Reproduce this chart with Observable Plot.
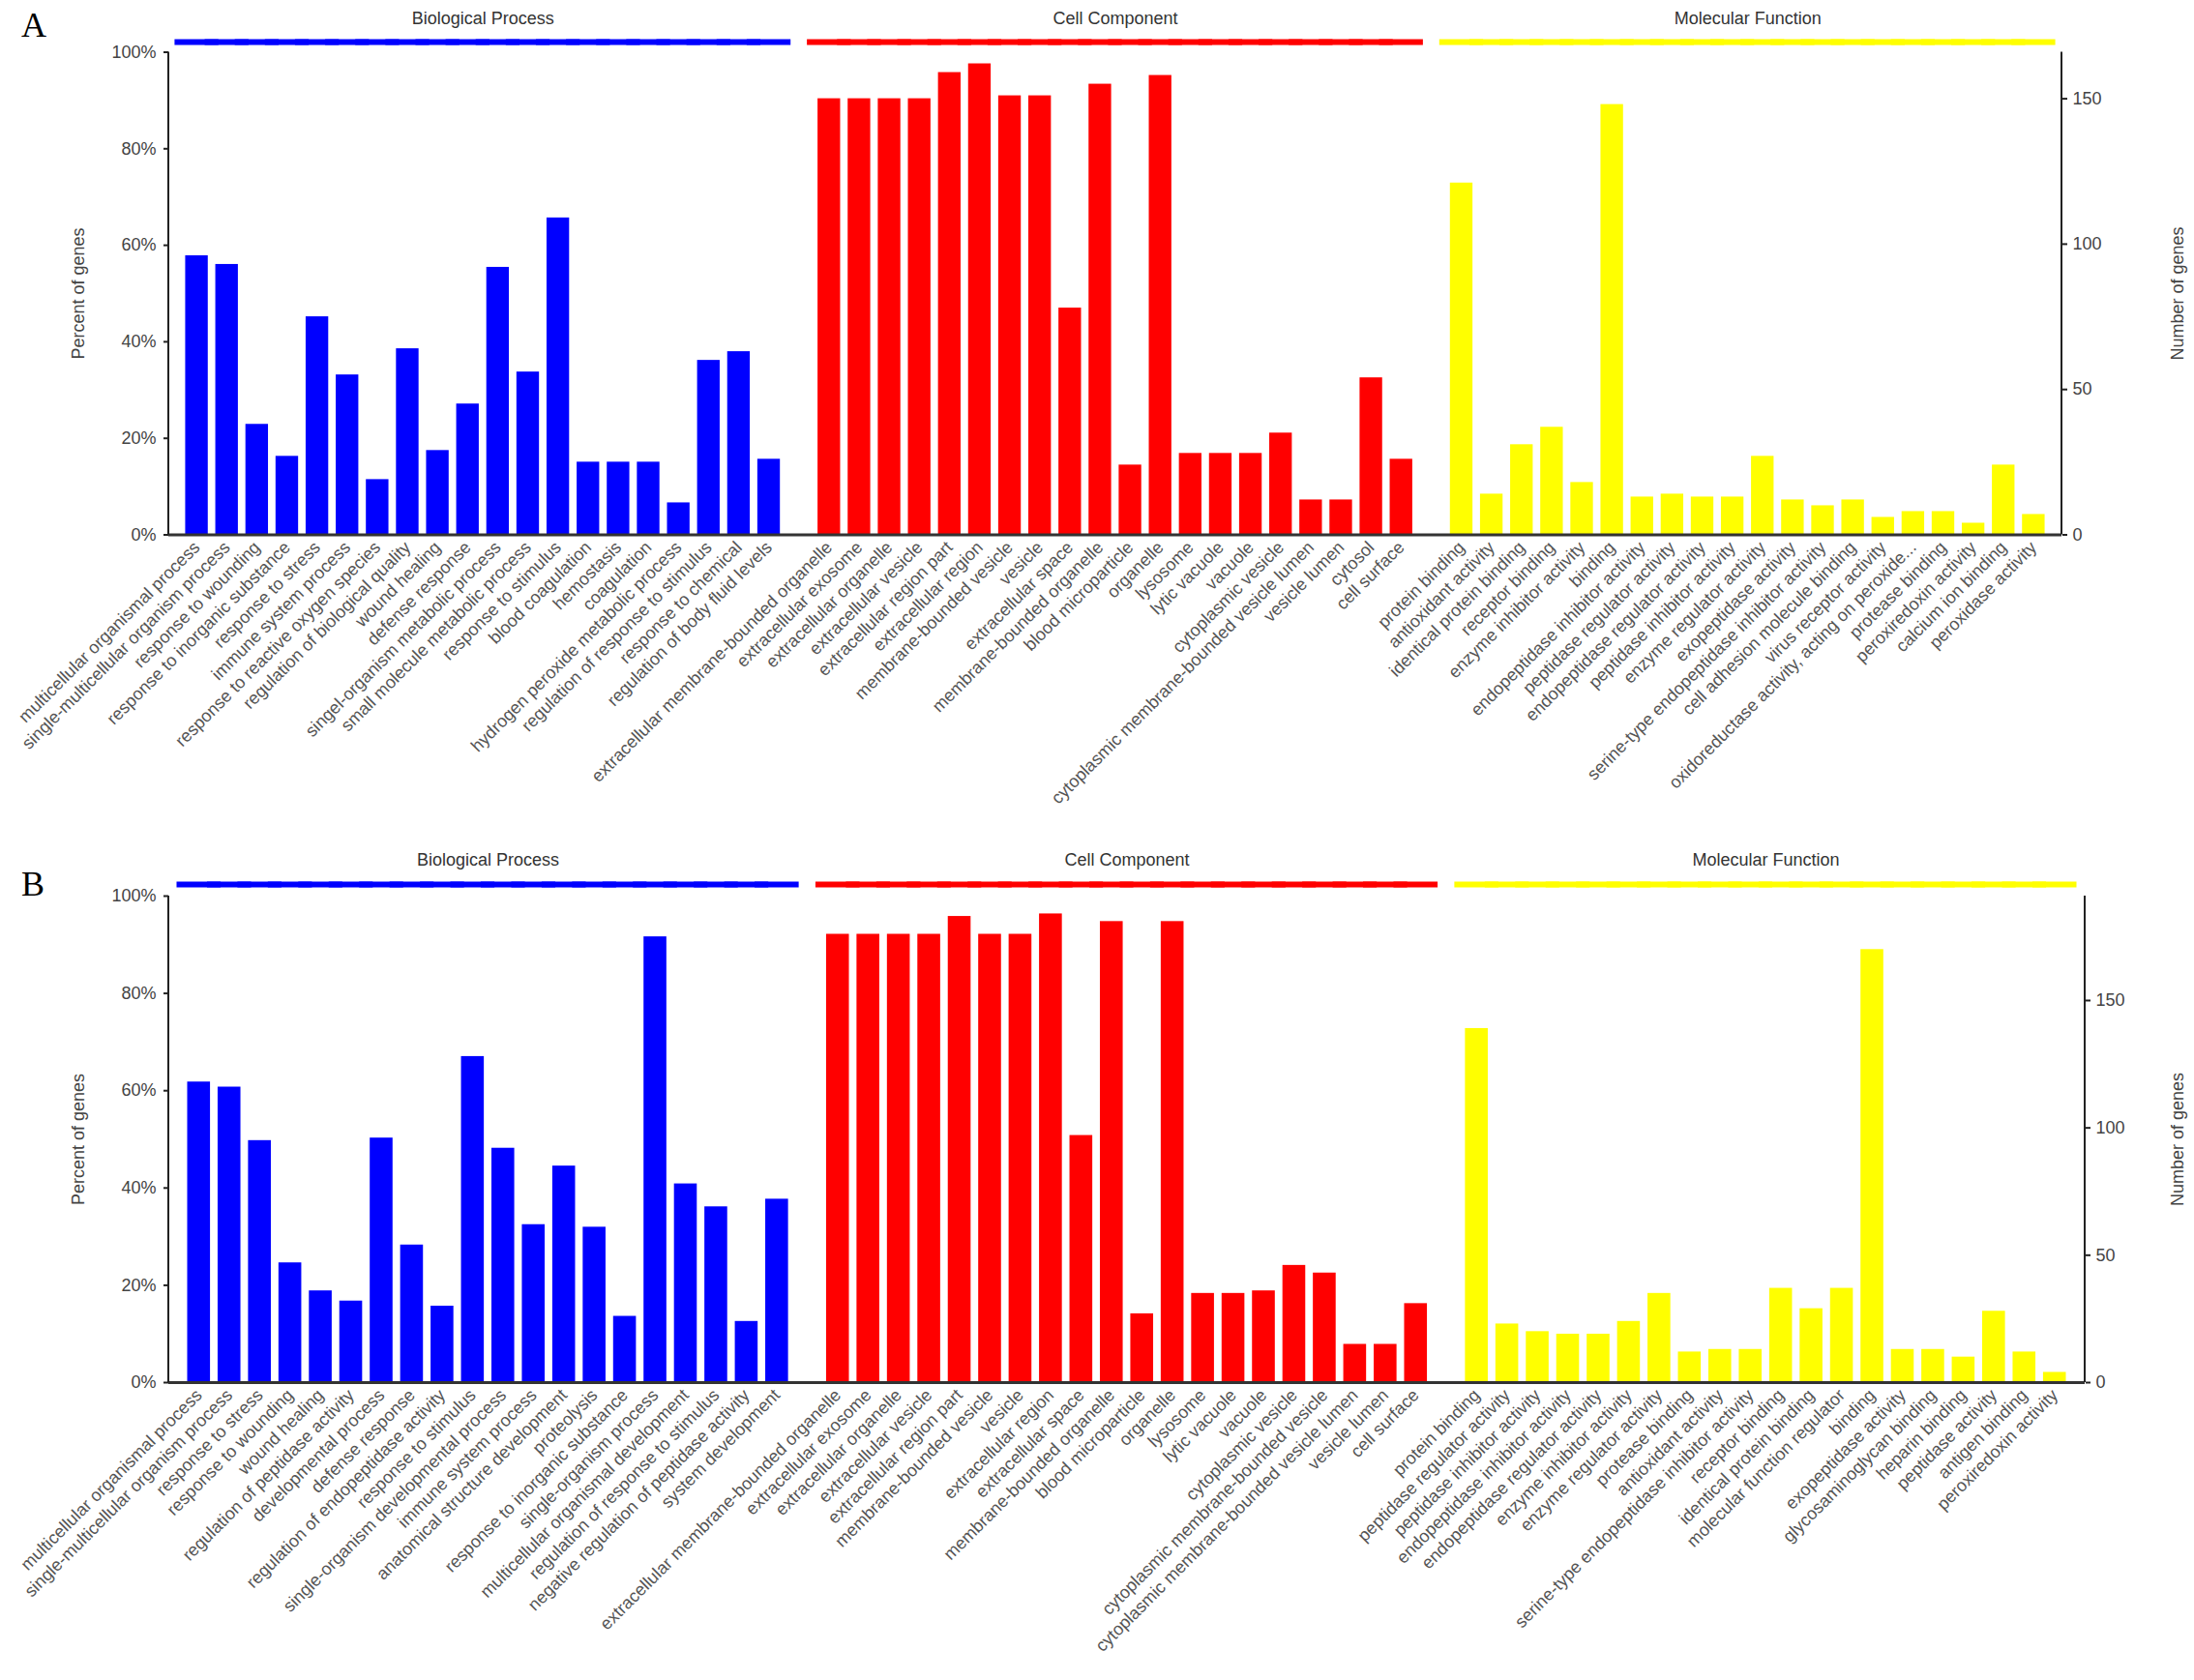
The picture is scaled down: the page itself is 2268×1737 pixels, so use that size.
<!DOCTYPE html>
<html>
<head>
<meta charset="utf-8">
<script src="https://cdn.jsdelivr.net/npm/d3@7"></script>
<script src="https://cdn.jsdelivr.net/npm/@observablehq/plot@0.6"></script>
<style>
  body { margin: 0; background: #fff; }
  #page { position: relative; width: 2268px; height: 1737px; overflow: hidden; }
  .panel { position: absolute; left: 0; }
  .tag { position: absolute; left: 22px; z-index: 2; line-height: 1;
         font-family: "Liberation Serif", "Times New Roman", serif; font-size: 36px; color: #000; }
</style>
</head>
<body>
<div id="page">
  <div class="panel" id="chartA" style="top:0px"></div>
  <div class="panel" id="chartB" style="top:870px"></div>
  <div class="tag" style="top:8px">A</div>
  <div class="tag" style="top:896px">B</div>
</div>
<script>
const groupNames = ["Biological Process", "Cell Component", "Molecular Function"];
const groupColors = ["#0000ff", "#ff0000", "#ffff00"];
const percentTicks = [0, 20, 40, 60, 80, 100];
const geneTicks = [0, 50, 100, 150];

// panel A (total genes ~166)
const totalA = 166;
const bpTermsA = ["multicellular organismal process", "single-multicellular organism process", "response to wounding",
  "response to inorganic substance", "response to stress", "immune system process", "response to reactive oxygen species",
  "regulation of biological quality", "wound healing", "defense response", "singel-organism metabolic process",
  "small molecule metabolic process", "response to stimulus", "blood coagulation", "hemostasis", "coagulation",
  "hydrogen peroxide metabolic process", "regulation of response to stimulus", "response to chemical",
  "regulation of body fluid levels"];
const bpCountsA = [96, 93, 38, 27, 75, 55, 19, 64, 29, 45, 92, 56, 109, 25, 25, 25, 11, 60, 63, 26];
const ccTermsA = ["extracellular membrane-bounded organelle", "extracellular exosome", "extracellular organelle",
  "extracellular vesicle", "extracellular region part", "extracellular region", "membrane-bounded vesicle", "vesicle",
  "extracellular space", "membrane-bounded organelle", "blood microparticle", "organelle", "lysosome", "lytic vacuole",
  "vacuole", "cytoplasmic vesicle", "cytoplasmic membrane-bounded vesicle lumen", "vesicle lumen", "cytosol", "cell surface"];
const ccCountsA = [150, 150, 150, 150, 159, 162, 151, 151, 78, 155, 24, 158, 28, 28, 28, 35, 12, 12, 54, 26];
const mfTermsA = ["protein binding", "antioxidant activity", "identical protein binding", "receptor binding",
  "enzyme inhibitor activity", "binding", "endopeptidase inhibitor activity", "peptidase regulator activity",
  "endopeptidase regulator activity", "peptidase inhibitor activity", "enzyme regulator activity", "exopeptidase activity",
  "serine-type endopeptidase inhibitor activity", "cell adhesion molecule binding", "virus receptor activity",
  "oxidoreductase activity, acting on peroxide...", "protease binding", "peroxiredoxin activity", "calcium ion binding",
  "peroxidase activity"];
const mfCountsA = [121, 14, 31, 37, 18, 148, 13, 14, 13, 13, 27, 12, 10, 12, 6, 8, 8, 4, 24, 7];

// panel B (total genes ~191)
const totalB = 191;
const bpTermsB = ["multicellular organismal process", "single-multicellular organism process", "response to stress",
  "response to wounding", "wound healing", "regulation of peptidase activity", "developmental process", "defense response",
  "regulation of endopeptidase activity", "response to stimulus", "single-organism developmental process",
  "immune system process", "anatomical structure development", "proteolysis", "response to inorganic substance",
  "single-organism process", "multicellular organismal development", "regulation of response to stimulus",
  "negative regulation of peptidase activity", "system development"];
const bpCountsB = [118, 116, 95, 47, 36, 32, 96, 54, 30, 128, 92, 62, 85, 61, 26, 175, 78, 69, 24, 72];
const ccTermsB = ["extracellular membrane-bounded organelle", "extracellular exosome", "extracellular organelle",
  "extracellular vesicle", "extracellular region part", "membrane-bounded vesicle", "vesicle", "extracellular region",
  "extracellular space", "membrane-bounded organelle", "blood microparticle", "organelle", "lysosome", "lytic vacuole",
  "vacuole", "cytoplasmic vesicle", "cytoplasmic membrane-bounded vesicle", "cytoplasmic membrane-bounded vesicle lumen",
  "vesicle lumen", "cell surface"];
const ccCountsB = [176, 176, 176, 176, 183, 176, 176, 184, 97, 181, 27, 181, 35, 35, 36, 46, 43, 15, 15, 31];
const mfTermsB = ["protein binding", "peptidase regulator activity", "peptidase inhibitor activity",
  "endopeptidase inhibitor activity", "endopeptidase regulator activity", "enzyme inhibitor activity",
  "enzyme regulator activity", "protease binding", "antioxidant activity", "serine-type endopeptidase inhibitor activity",
  "receptor binding", "identical protein binding", "molecular function regulator", "binding", "exopeptidase activity",
  "glycosaminoglycan binding", "heparin binding", "peptidase activity", "antigen binding", "peroxiredoxin activity"];
const mfCountsB = [139, 23, 20, 19, 19, 24, 35, 12, 13, 13, 37, 29, 37, 170, 13, 13, 10, 28, 12, 4];

// vertical axis lines at both edges of the frame
function sideLines(index, scales, values, dims) {
  const g = d3.create("svg:g").attr("stroke", "#222").attr("stroke-width", 2);
  [dims.marginLeft, dims.width - dims.marginRight].forEach(x => {
    g.append("line").attr("x1", x).attr("x2", x)
      .attr("y1", dims.marginTop).attr("y2", dims.height - dims.marginBottom);
  });
  return g.node();
}

function drawPanel(cfg) {
  const marginLeft = 174, paddingInner = 0.25, W = 2268;
  const groups = cfg.terms.map((terms, gi) => ({name: groupNames[gi], color: groupColors[gi], terms, counts: cfg.counts[gi]}));

  // one empty slot between groups
  const domain = [];
  groups.forEach((g, gi) => {
    if (gi > 0) domain.push("gap" + gi);
    g.terms.forEach(t => domain.push(g.name + "|" + t));
  });
  const step = (W - marginLeft - cfg.marginRight) / (domain.length - paddingInner + 2 * cfg.paddingOuter);

  const marks = [];
  groups.forEach(g => {
    const rows = g.terms.map((t, i) => ({key: g.name + "|" + t, pct: g.counts[i] / cfg.total * 100}));
    marks.push(Plot.barY(rows, {x: "key", y: "pct", fill: g.color}));
    // coloured strip above the group
    marks.push(Plot.barY(rows, {x: "key", y1: () => 100, y2: () => 100, fill: g.color,
      insetTop: -3, insetBottom: -3, insetLeft: -11, insetRight: -11, dy: cfg.lineDy}));
    marks.push(Plot.text([rows[9]], {x: "key", y: () => 100, text: () => g.name, dx: step / 2, dy: cfg.titleDy,
      fontSize: 18, fill: "#333"}));
  });

  marks.push(
    Plot.ruleY([0], {stroke: "#333", strokeWidth: 3}),
    sideLines,
    Plot.axisX({tickSize: 0, tickPadding: 10, tickRotate: -45, fontSize: 18, fill: "#555",
      tickFormat: k => k.startsWith("gap") ? "" : k.split("|")[1], label: null}),
    Plot.axisY(percentTicks, {anchor: "left", tickFormat: d => d + "%", tickSize: 5, tickPadding: 8,
      fontSize: 18, stroke: "#222", fill: "#444", strokeWidth: 2,
      label: "Percent of genes", labelAnchor: "center", labelArrow: "none", labelOffset: 100}),
    Plot.axisY(geneTicks, {anchor: "right", y: d => d / cfg.total * 100, tickFormat: d => String(d),
      tickSize: 5, tickPadding: 6, fontSize: 18, stroke: "#222", fill: "#444", strokeWidth: 2,
      label: "Number of genes", labelAnchor: "center", labelArrow: "none", labelOffset: cfg.rightLabelOffset})
  );

  return Plot.plot({
    width: W,
    height: cfg.height,
    marginLeft,
    marginRight: cfg.marginRight,
    marginTop: cfg.marginTop,
    marginBottom: cfg.marginBottom,
    x: {domain, paddingInner, paddingOuter: cfg.paddingOuter, round: false},
    y: {domain: [0, 100]},
    style: {fontFamily: "'Liberation Sans', Arial, sans-serif", fontSize: "18px", background: "white", overflow: "visible"},
    marks
  });
}

const chartA = drawPanel({
  terms: [bpTermsA, ccTermsA, mfTermsA], counts: [bpCountsA, ccCountsA, mfCountsA], total: totalA,
  height: 870, marginTop: 53.5, marginBottom: 317.5, marginRight: 137, paddingOuter: 0.56,
  lineDy: -10, titleDy: -35, rightLabelOffset: 125
});
d3.select('#chartA').append(() => chartA);

const chartB = drawPanel({
  terms: [bpTermsB, ccTermsB, mfTermsB], counts: [bpCountsB, ccCountsB, mfCountsB], total: totalB,
  height: 867, marginTop: 56, marginBottom: 308, marginRight: 113, paddingOuter: 0.62,
  lineDy: -11.5, titleDy: -37.5, rightLabelOffset: 101
});
d3.select('#chartB').append(() => chartB);
</script>
</body>
</html>
